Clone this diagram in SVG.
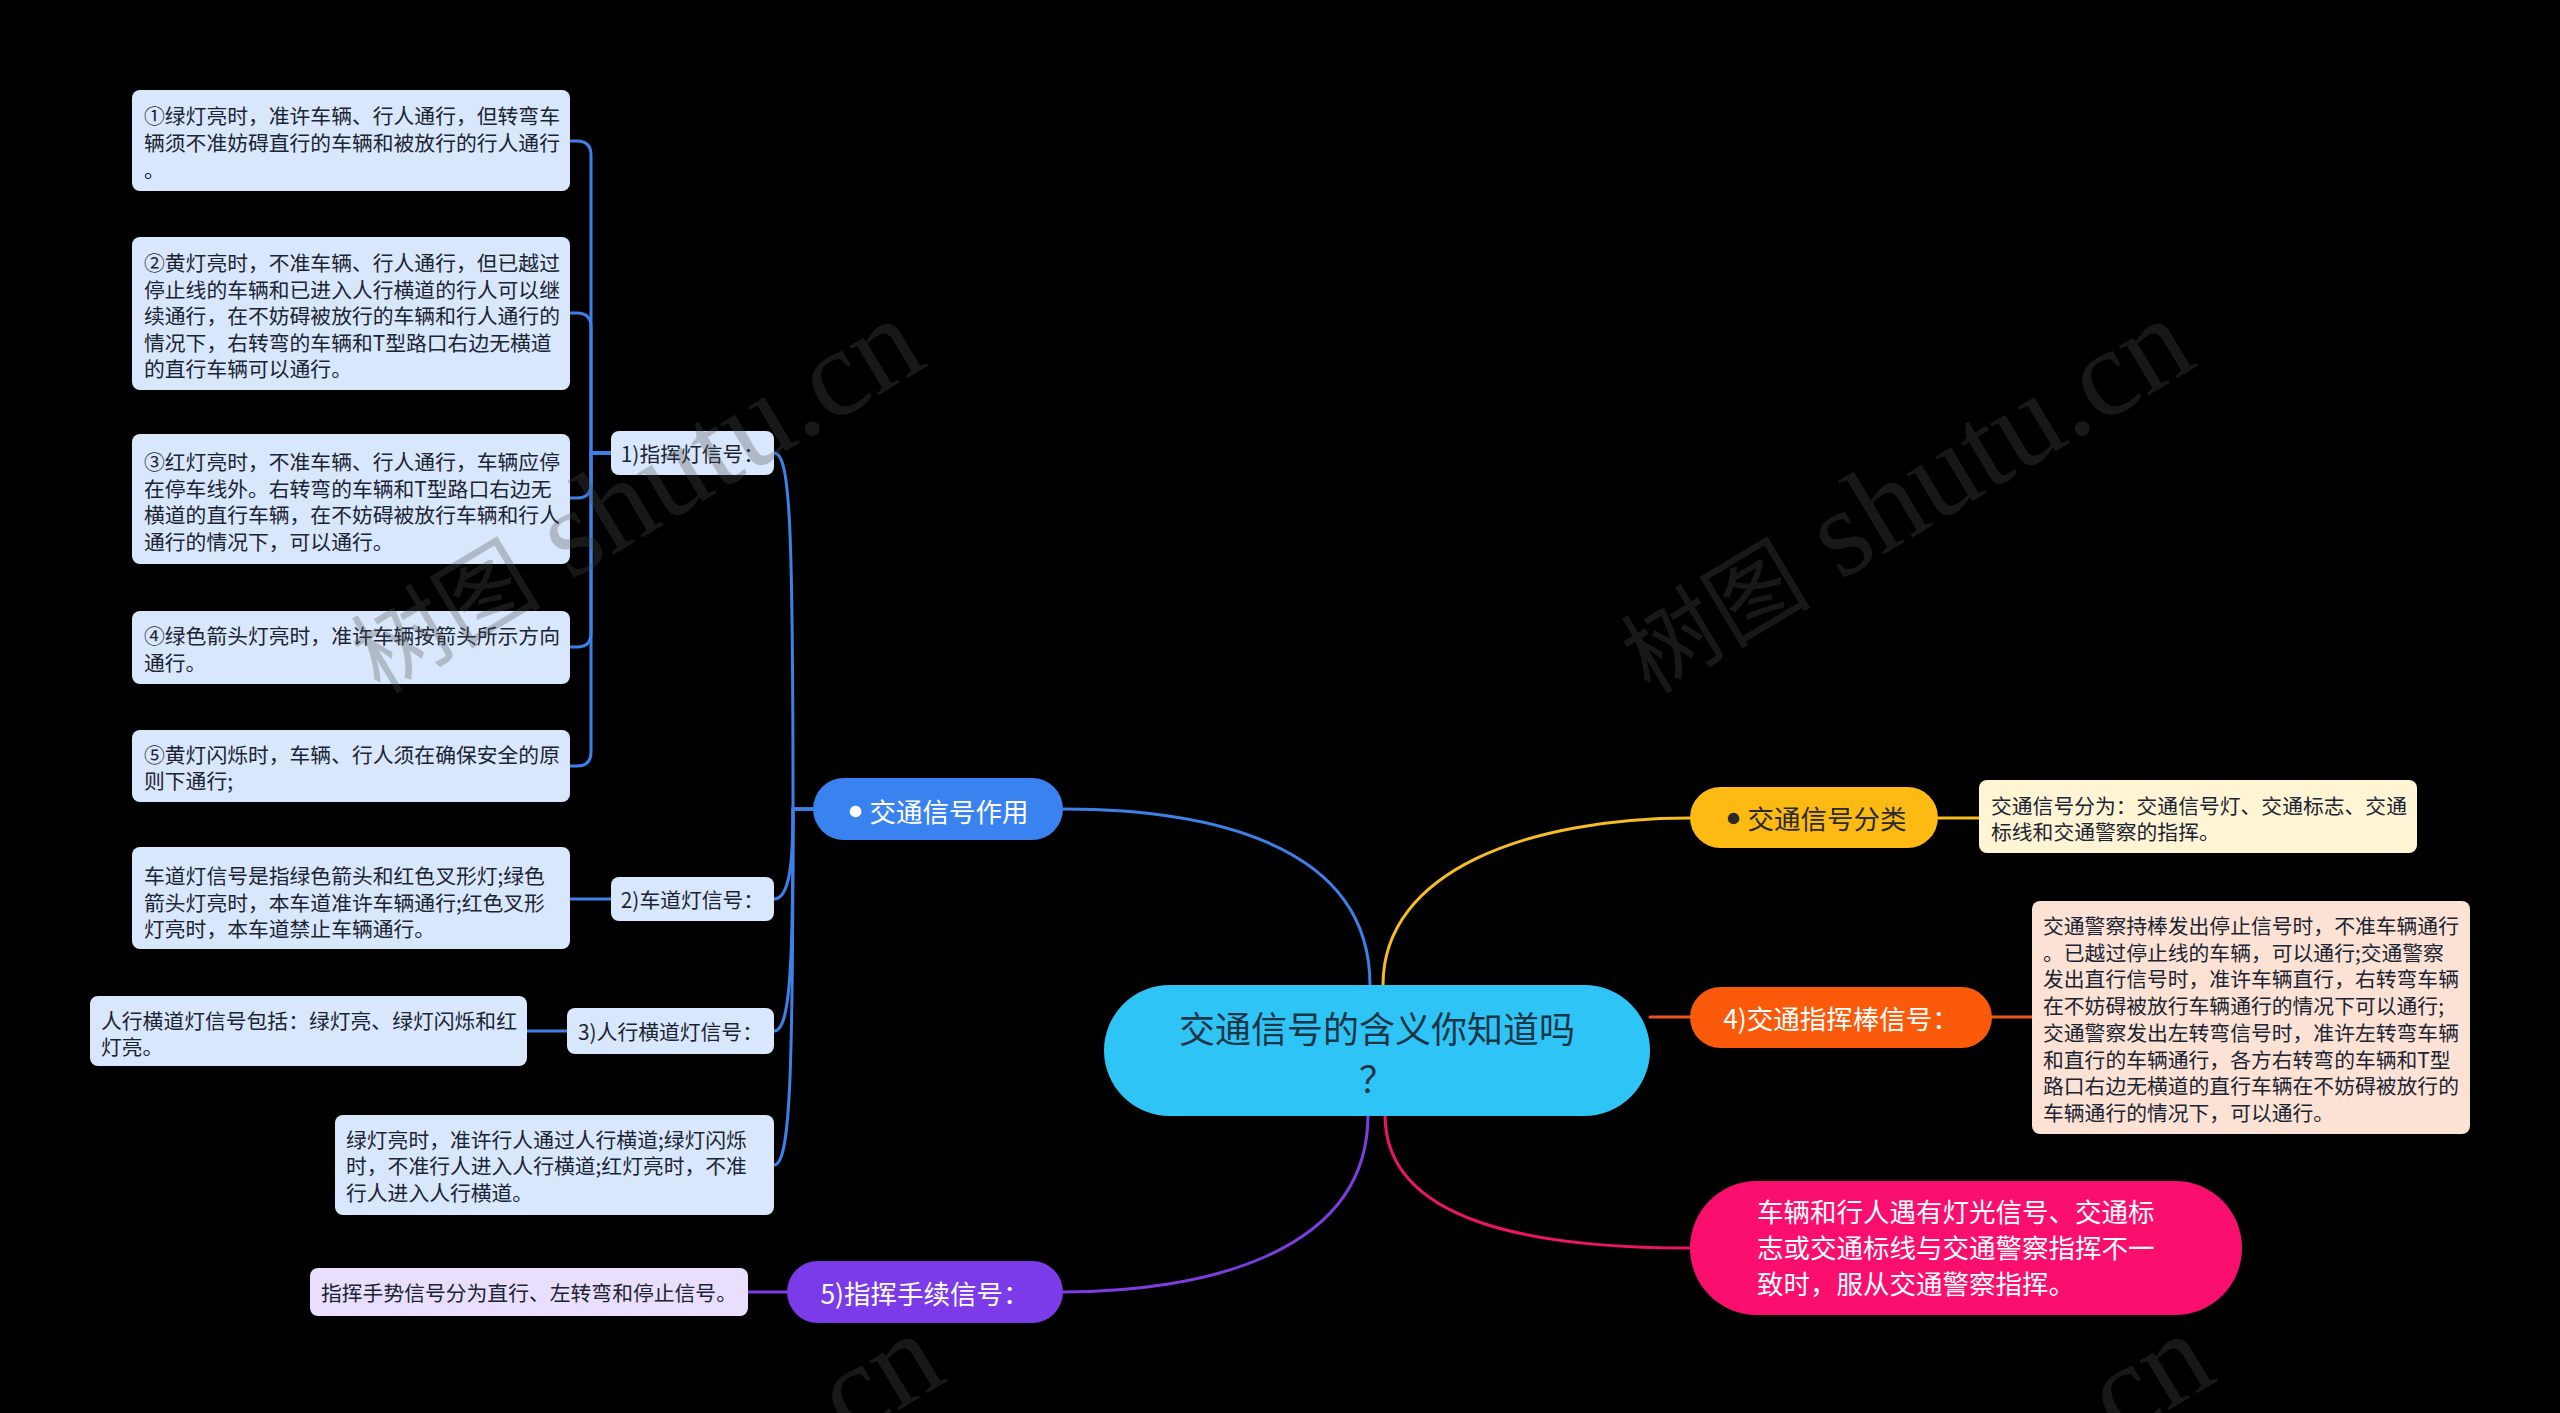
<svg xmlns="http://www.w3.org/2000/svg" width="2560" height="1413" viewBox="0 0 2560 1413">
<style>
text{font-family:"Noto Sans CJK SC","Noto Sans",sans-serif;dominant-baseline:central}
.t{font-size:20.8px;fill:#1b2433}
.lb{fill:#D9E7FC}
.c{fill:none;stroke-width:3;stroke-linecap:round}
.cb{stroke:#3C80E8}
.cy{stroke:#F6BD22}
.co{stroke:#EA561A}
.cp{stroke:#EE1468}
.cv{stroke:#7D3DE2}
.big{font-size:26.5px}
.wm{font-family:"Liberation Serif","Noto Sans CJK SC",serif;fill:#505050;fill-opacity:0.3;dominant-baseline:auto}
</style>
<rect x="0" y="0" width="2560" height="1413" fill="#000"/>

<g id="connectors">
<path class="c cb" d="M813 809H793C793 520 790 453 774 453"/>
<path class="c cb" d="M813 809H793C793 860 790 899 774 899"/>
<path class="c cb" d="M813 809H793C793 970 790 1031 774 1031"/>
<path class="c cb" d="M813 809H793C793 1080 790 1165 774 1165"/>
<path class="c cb" d="M611 453H591V155Q591 141 577 141H570"/>
<path class="c cb" d="M611 453H591V327Q591 313 577 313H570"/>
<path class="c cb" d="M611 453H591V484Q591 498 577 498H570"/>
<path class="c cb" d="M611 453H591V633Q591 647 577 647H570"/>
<path class="c cb" d="M611 453H591V752Q591 766 577 766H570"/>
<path class="c cb" d="M611 899H570"/>
<path class="c cb" d="M567 1031H527"/>
<path class="c cb" d="M1370 985C1370 840 1200 809 1063 809"/>
<path class="c cy" d="M1383 985C1383 870 1530 818 1690 818"/>
<path class="c cy" d="M1938 818H1979"/>
<path class="c co" d="M1650 1017H1690"/>
<path class="c co" d="M1992 1017H2032"/>
<path class="c cp" d="M1385 1115C1385 1225 1540 1248 1690 1248"/>
<path class="c cv" d="M1368 1115C1368 1255 1200 1292 1063 1292"/>
<path class="c cv" d="M787 1292H748"/>
</g>

<g id="center">
<rect x="1104" y="985" width="546" height="131" rx="65.5" fill="#2EC5F6"/>
<text x="1377" y="1027" text-anchor="middle" font-size="36" fill="#1d3547">交通信号的含义你知道吗</text>
<text x="1377" y="1077" text-anchor="middle" font-size="36" fill="#1d3547">？</text>
</g>

<g id="branch-zuoyong">
<rect x="813" y="778" width="250" height="62" rx="31" fill="#3B82F1"/>
<text x="938" y="810" text-anchor="middle" class="big" fill="#fff"><tspan font-family="Liberation Sans">●</tspan> 交通信号作用</text>
</g>

<g id="sub-1">
<rect class="lb" x="611" y="431" width="163" height="44" rx="8"/>
<text class="t" x="692.5" y="453" text-anchor="middle">1)指挥灯信号：</text>
</g>
<g id="sub-2">
<rect class="lb" x="611" y="877" width="163" height="44" rx="8"/>
<text class="t" x="692.5" y="899" text-anchor="middle">2)车道灯信号：</text>
</g>
<g id="sub-3">
<rect class="lb" x="567" y="1008" width="207" height="46" rx="8"/>
<text class="t" x="670.5" y="1031" text-anchor="middle">3)人行横道灯信号：</text>
</g>

<g id="leaf-1">
<rect class="lb" x="132" y="90" width="438" height="101" rx="8"/>
<text class="t" x="144" y="115">①绿灯亮时，准许车辆、行人通行，但转弯车</text>
<text class="t" x="144" y="142">辆须不准妨碍直行的车辆和被放行的行人通行</text>
<text class="t" x="144" y="169">。</text>
</g>
<g id="leaf-2">
<rect class="lb" x="132" y="237" width="438" height="153" rx="8"/>
<text class="t" x="144" y="262">②黄灯亮时，不准车辆、行人通行，但已越过</text>
<text class="t" x="144" y="288.5">停止线的车辆和已进入人行横道的行人可以继</text>
<text class="t" x="144" y="315">续通行，在不妨碍被放行的车辆和行人通行的</text>
<text class="t" x="144" y="341.5">情况下，右转弯的车辆和T型路口右边无横道</text>
<text class="t" x="144" y="368">的直行车辆可以通行。</text>
</g>
<g id="leaf-3">
<rect class="lb" x="132" y="434" width="438" height="130" rx="8"/>
<text class="t" x="144" y="461">③红灯亮时，不准车辆、行人通行，车辆应停</text>
<text class="t" x="144" y="487.5">在停车线外。右转弯的车辆和T型路口右边无</text>
<text class="t" x="144" y="514">横道的直行车辆，在不妨碍被放行车辆和行人</text>
<text class="t" x="144" y="540.5">通行的情况下，可以通行。</text>
</g>
<g id="leaf-4">
<rect class="lb" x="132" y="611" width="438" height="73" rx="8"/>
<text class="t" x="144" y="635">④绿色箭头灯亮时，准许车辆按箭头所示方向</text>
<text class="t" x="144" y="661.5">通行。</text>
</g>
<g id="leaf-5">
<rect class="lb" x="132" y="730" width="438" height="72" rx="8"/>
<text class="t" x="144" y="753.5">⑤黄灯闪烁时，车辆、行人须在确保安全的原</text>
<text class="t" x="144" y="780">则下通行;</text>
</g>
<g id="leaf-chedao">
<rect class="lb" x="132" y="847" width="438" height="102" rx="8"/>
<text class="t" x="144" y="875">车道灯信号是指绿色箭头和红色叉形灯;绿色</text>
<text class="t" x="144" y="901.5">箭头灯亮时，本车道准许车辆通行;红色叉形</text>
<text class="t" x="144" y="928">灯亮时，本车道禁止车辆通行。</text>
</g>
<g id="leaf-renxing">
<rect class="lb" x="90" y="996" width="437" height="70" rx="8"/>
<text class="t" x="101" y="1019.5">人行横道灯信号包括：绿灯亮、绿灯闪烁和红</text>
<text class="t" x="101" y="1046">灯亮。</text>
</g>
<g id="leaf-lvdeng">
<rect class="lb" x="335" y="1115" width="439" height="100" rx="8"/>
<text class="t" x="346" y="1138.5">绿灯亮时，准许行人通过人行横道;绿灯闪烁</text>
<text class="t" x="346" y="1165">时，不准行人进入人行横道;红灯亮时，不准</text>
<text class="t" x="346" y="1191.5">行人进入人行横道。</text>
</g>

<g id="branch-fenlei">
<rect x="1690" y="787" width="248" height="61" rx="30.5" fill="#FCBA12"/>
<text x="1816" y="817" text-anchor="middle" class="big" fill="#2a2a2a"><tspan font-family="Liberation Sans">●</tspan> 交通信号分类</text>
</g>
<g id="leaf-fenlei">
<rect x="1979" y="780" width="438" height="73" rx="8" fill="#FFF4D4"/>
<text class="t" x="1991" y="804.5">交通信号分为：交通信号灯、交通标志、交通</text>
<text class="t" x="1991" y="831">标线和交通警察的指挥。</text>
</g>

<g id="branch-zhihuibang">
<rect x="1690" y="987" width="302" height="61" rx="30.5" fill="#FA5A0A"/>
<text x="1841" y="1017" text-anchor="middle" class="big" fill="#fff">4)交通指挥棒信号：</text>
</g>
<g id="leaf-zhihuibang">
<rect x="2032" y="901" width="438" height="233" rx="8" fill="#FCE2D5"/>
<text class="t" x="2043" y="925">交通警察持棒发出停止信号时，不准车辆通行</text>
<text class="t" x="2043" y="951.7">。已越过停止线的车辆，可以通行;交通警察</text>
<text class="t" x="2043" y="978.4">发出直行信号时，准许车辆直行，右转弯车辆</text>
<text class="t" x="2043" y="1005.1">在不妨碍被放行车辆通行的情况下可以通行;</text>
<text class="t" x="2043" y="1031.8">交通警察发出左转弯信号时，准许左转弯车辆</text>
<text class="t" x="2043" y="1058.5">和直行的车辆通行，各方右转弯的车辆和T型</text>
<text class="t" x="2043" y="1085.2">路口右边无横道的直行车辆在不妨碍被放行的</text>
<text class="t" x="2043" y="1111.9">车辆通行的情况下，可以通行。</text>
</g>

<g id="branch-fucong">
<rect x="1690" y="1181" width="552" height="134" rx="67" fill="#FB0F6E"/>
<text x="1757" y="1210" class="big" fill="#fff">车辆和行人遇有灯光信号、交通标</text>
<text x="1757" y="1246" class="big" fill="#fff">志或交通标线与交通警察指挥不一</text>
<text x="1757" y="1282" class="big" fill="#fff">致时，服从交通警察指挥。</text>
</g>

<g id="branch-shoushi">
<rect x="787" y="1261" width="276" height="62" rx="31" fill="#7B3BE8"/>
<text x="925" y="1292" text-anchor="middle" class="big" fill="#fff">5)指挥手续信号：</text>
</g>
<g id="leaf-shoushi">
<rect x="310" y="1268" width="438" height="48" rx="8" fill="#E9DEFB"/>
<text class="t" x="321" y="1292">指挥手势信号分为直行、左转弯和停止信号。</text>
</g>

<g id="watermarks">
<text class="wm" transform="translate(380 695) rotate(-31)"><tspan font-size="95">树图</tspan><tspan font-size="125"> shutu.cn</tspan></text>
<text class="wm" transform="translate(1650 695) rotate(-31)"><tspan font-size="95">树图</tspan><tspan font-size="125"> shutu.cn</tspan></text>
<text class="wm" transform="translate(400 1710) rotate(-31)"><tspan font-size="95">树图</tspan><tspan font-size="125"> shutu.cn</tspan></text>
<text class="wm" transform="translate(1670 1710) rotate(-31)"><tspan font-size="95">树图</tspan><tspan font-size="125"> shutu.cn</tspan></text>
</g>
</svg>
